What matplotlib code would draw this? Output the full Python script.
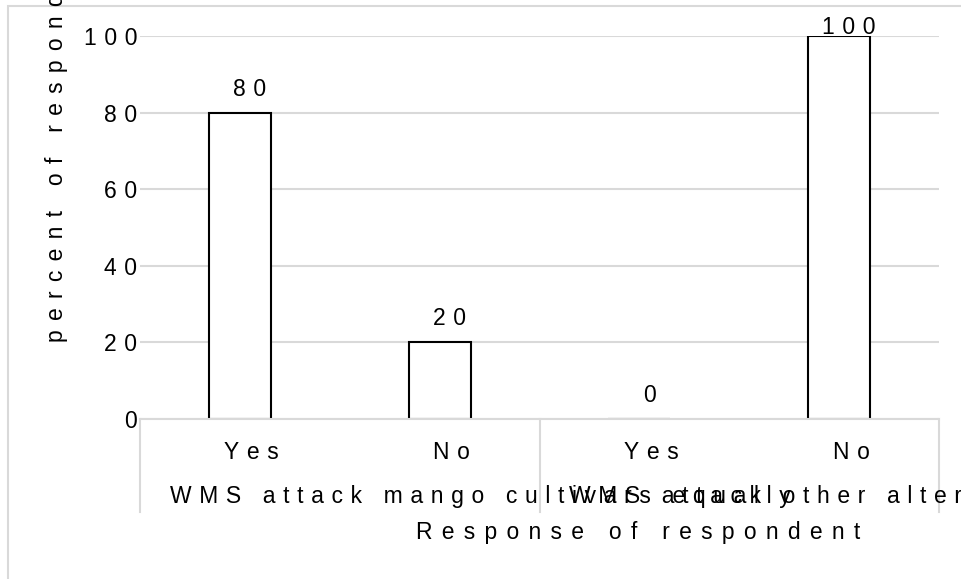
import numpy as np
import matplotlib
matplotlib.use("Agg")
import matplotlib.pyplot as plt
from matplotlib.patches import Rectangle
from matplotlib.transforms import ScaledTranslation, blended_transform_factory

# data
categories = ["Yes", "No", "Yes", "No"]
groups = ["WMS attack mango cultivars equally", "WMS attack other alternative hosts"]
group_sizes = [2, 2]
values = [80, 20, 0, 100]
yticks = [0, 20, 40, 60, 80, 100]
ylabel = "percent of respondents"
xlabel = "Response of respondent"

plt.rcParams['font.family'] = ['Liberation Sans', 'DejaVu Sans']
FS = 16.5
GRID = "#d9d9d9"

# excel-like letter spacing
def spaced(s, ls="\u2004"):
    return (ls + " " + ls).join(ls.join(w) for w in s.split(" "))

fig = plt.figure(figsize=(9.61, 5.79), dpi=100)
W, H = 961, 579
ax = fig.add_axes([140 / W, 1 - 419 / H, (939 - 140) / W, (419 - 36) / H])

x = np.arange(len(values))
ax.bar(x, values, width=0.31, facecolor="white", edgecolor="black", linewidth=1.5, zorder=2)

ax.set_xlim(-0.5, len(values) - 0.5)
ax.set_ylim(0, 100)
ax.set_yticks(yticks)
ax.set_yticklabels([spaced(str(t)) for t in yticks], fontsize=FS)
ax.yaxis.grid(True, color=GRID, linewidth=1.5, zorder=0)
ax.set_axisbelow(True)
for s in ["top", "right", "left"]:
    ax.spines[s].set_visible(False)
ax.spines["bottom"].set_color(GRID)
ax.spines["bottom"].set_linewidth(1.5)
ax.spines["bottom"].set_zorder(3)
ax.tick_params(axis="y", length=0, pad=2)
ax.tick_params(axis="x", length=0, pad=16)

ax.set_xticks(x)
ax.set_xticklabels([spaced(c) for c in categories], fontsize=FS)
shift = ScaledTranslation(12 / 100, 0, fig.dpi_scale_trans)
for lab in ax.get_xticklabels():
    lab.set_transform(lab.get_transform() + shift)

# data labels
for xi, v in zip(x, values):
    dy = 2 if v >= 100 else 17
    ax.annotate(spaced(str(v)), (xi, v), xytext=(10, dy), textcoords="offset pixels",
                ha="center", va="baseline", fontsize=FS)

# group separators and group labels
bt = blended_transform_factory(ax.transData, ax.transAxes)
bounds = np.concatenate([[0], np.cumsum(group_sizes)]) - 0.5
for b in bounds:
    ax.plot([b, b], [0, -0.243], transform=bt, color=GRID, linewidth=1.5, clip_on=False)
label_x = [bounds[0] + 0.15, bounds[1] + 0.15]
for gx, g in zip(label_x, groups):
    ax.text(gx, -0.219, spaced(g), transform=bt, ha="left", va="baseline", fontsize=FS)

fig.text(638 / W, 1 - 533 / H, spaced(xlabel, "\u2009\u2009"), ha="center", va="center", fontsize=FS)
fig.text(57 / W, 1 - 342 / H, spaced(ylabel, "\u2009\u2009"), rotation=90, ha="center", va="bottom", fontsize=FS)

# chart border
fig.add_artist(Rectangle((8 / W, -1), 2, 2 - 6 / H, transform=fig.transFigure,
                         facecolor="none", edgecolor=GRID, linewidth=1.5))

fig.savefig("out.png", dpi=100)
